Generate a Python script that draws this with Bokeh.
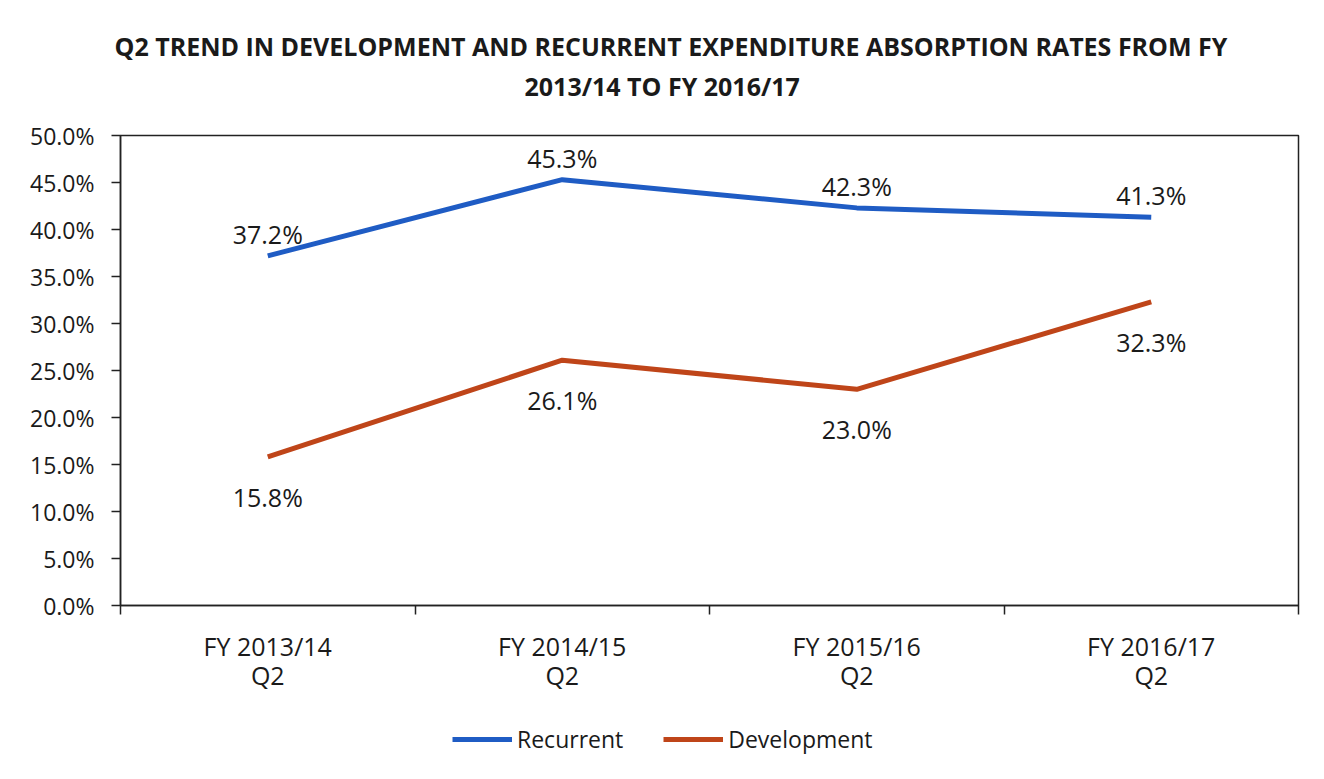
from bokeh.plotting import figure
from bokeh.layouts import column
from bokeh.models import (ColumnDataSource, Range1d, FixedTicker, NumeralTickFormatter,
                          Title, Legend, LegendItem)
from bokeh.core.properties import value
from bokeh.embed import file_html
from bokeh.resources import INLINE

categories = ["FY 2013/14\nQ2", "FY 2014/15\nQ2", "FY 2015/16\nQ2", "FY 2016/17\nQ2"]
series_names = ["Recurrent", "Development"]
recurrent = [37.2, 45.3, 42.3, 41.3]
development = [15.8, 26.1, 23.0, 32.3]
recurrent_labels = ["37.2%", "45.3%", "42.3%", "41.3%"]
development_labels = ["15.8%", "26.1%", "23.0%", "32.3%"]
y_ticks = [0, 5, 10, 15, 20, 25, 30, 35, 40, 45, 50]
title_line1 = "Q2 TREND IN DEVELOPMENT AND RECURRENT EXPENDITURE ABSORPTION RATES FROM FY"
title_line2 = "2013/14 TO FY 2016/17"

FONT = "Open Sans"
BLUE = "#1f5cc4"
ORANGE = "#bf4519"
TXT = "#1a1a1a"
W = 1318

xs = [i + 0.5 for i in range(len(categories))]
rec_frac = [v / 100 for v in recurrent]
dev_frac = [v / 100 for v in development]

p = figure(frame_width=1178, frame_height=470, output_backend="svg", toolbar_location=None,
           x_range=Range1d(0, len(categories)), y_range=Range1d(0, 0.5),
           min_border_left=120, min_border_right=20, min_border_top=135,
           min_border_bottom=95)
p.title = None

# titles stack outward from the frame: spacer, line 2, line 1
t0 = Title(text=" ", text_font=FONT, text_font_size="10px", standoff=17)
t2 = Title(text=title_line2, align="left", offset=404, text_font=FONT,
           text_font_size="25px", text_font_style="bold", text_color=TXT, standoff=0)
t1 = Title(text=title_line1, align="left", offset=-6, text_font=FONT,
           text_font_size="25px", text_font_style="bold", text_color=TXT, standoff=7)
p.add_layout(t0, "above")
p.add_layout(t2, "above")
p.add_layout(t1, "above")

p.outline_line_color = "#222222"
p.outline_line_width = 1.5
p.xgrid.visible = False
p.ygrid.visible = False

# y axis
p.yaxis.ticker = FixedTicker(ticks=[v / 100 for v in y_ticks])
p.yaxis.formatter = NumeralTickFormatter(format="0.0%")
p.yaxis.major_label_text_font = FONT
p.yaxis.major_label_text_font_size = "23px"
p.yaxis.major_label_text_color = TXT
p.yaxis.major_tick_in = 0
p.yaxis.major_tick_out = 9
p.yaxis.minor_tick_line_color = None
p.yaxis.axis_line_color = "#222222"
p.yaxis.axis_line_width = 1.5
p.yaxis.major_tick_line_color = "#222222"
p.yaxis.major_tick_line_width = 1.5
p.yaxis.major_label_standoff = 17

# x axis
p.xaxis.ticker = FixedTicker(ticks=xs, minor_ticks=list(range(len(categories) + 1)))
p.xaxis.major_label_overrides = {x: c for x, c in zip(xs, categories)}
p.xaxis.major_label_text_font = FONT
p.xaxis.major_label_text_font_size = "25px"
p.xaxis.major_label_text_color = TXT
p.xaxis.major_label_text_line_height = 0.88
p.xaxis.major_tick_line_color = None
p.xaxis.minor_tick_in = 0
p.xaxis.minor_tick_out = 9
p.xaxis.minor_tick_line_color = "#222222"
p.xaxis.minor_tick_line_width = 1.5
p.xaxis.axis_line_color = "#222222"
p.xaxis.axis_line_width = 1.5
p.xaxis.major_label_standoff = 14

src = ColumnDataSource(dict(x=xs, rec=rec_frac, dev=dev_frac,
                            rec_lab=recurrent_labels, dev_lab=development_labels))

p.line("x", "rec", source=src, line_color=BLUE, line_width=5)
p.line("x", "dev", source=src, line_color=ORANGE, line_width=5)

p.text("x", "rec", text="rec_lab", source=src, text_font=value(FONT),
       text_font_size="25px", text_color=TXT, text_align="center",
       text_baseline="middle", y_offset=-22)
p.text("x", "dev", text="dev_lab", source=src, text_font=value(FONT),
       text_font_size="25px", text_color=TXT, text_align="center",
       text_baseline="middle", y_offset=40)

# legend strip below the chart (its ranges keep the series themselves out of view)
lg = figure(width=W, height=70, output_backend="svg", toolbar_location=None,
            x_range=Range1d(100, 101), y_range=Range1d(100, 101),
            x_axis_type=None, y_axis_type=None,
            min_border_left=0, min_border_right=0, min_border_top=0, min_border_bottom=0)
lg.title = None
lg.outline_line_color = None
lg.xgrid.visible = False
lg.ygrid.visible = False
k1 = lg.line("x", "rec", source=src, line_color=BLUE, line_width=5)
k2 = lg.line("x", "dev", source=src, line_color=ORANGE, line_width=5)
legend = Legend(items=[LegendItem(label=series_names[0], renderers=[k1]),
                       LegendItem(label=series_names[1], renderers=[k2])],
                orientation="horizontal", location=(332, 15),
                label_text_font=FONT, label_text_font_size="23px",
                label_text_color=TXT, glyph_width=60, label_standoff=5,
                spacing=40, border_line_color=None, background_fill_alpha=0,
                margin=0, padding=0)
lg.add_layout(legend, "center")

layout = column(p, lg, spacing=0)
open("out.html", "w").write(file_html(layout, INLINE))
